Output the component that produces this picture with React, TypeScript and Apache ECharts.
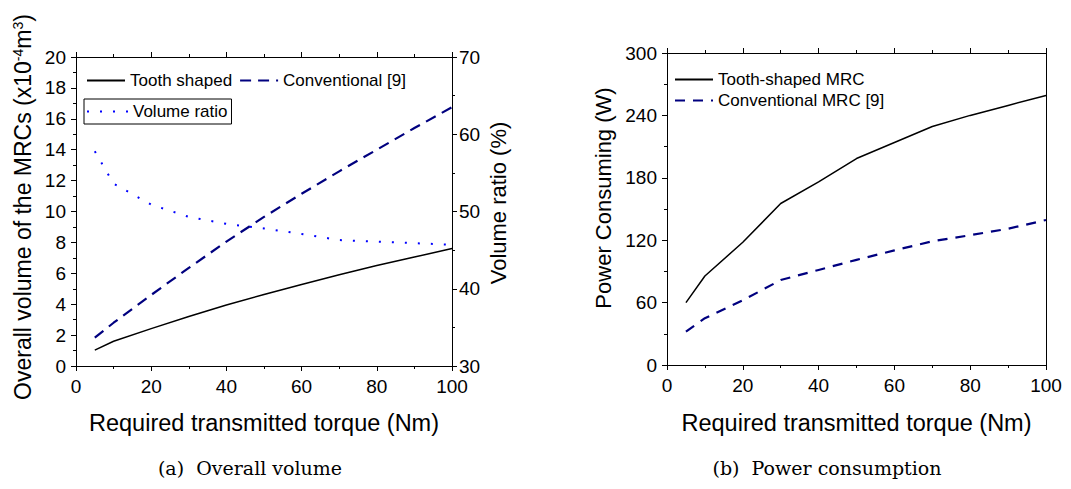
import React, { useEffect, useRef } from "react";
import * as echarts from "echarts";

const torque = [5, 10, 20, 30, 40, 50, 60, 70, 80, 90, 100];
const volTooth = [1.03, 1.6, 2.42, 3.2, 3.95, 4.63, 5.27, 5.9, 6.5, 7.05, 7.6];
const volConv = [1.83, 2.8, 4.6, 6.35, 8.05, 9.65, 11.15, 12.6, 14.0, 15.4, 16.75];
const volRatio = [57.8, 53.6, 50.9, 49.3, 48.4, 47.8, 47.1, 46.3, 46.1, 45.9, 45.7];
const powTooth = [60, 85.6, 118, 155.3, 176, 198.5, 214, 229.3, 240, 249.6, 259.2];
const powConv = [32.1, 45, 62.2, 81.7, 91.4, 101.1, 110.2, 119, 124.8, 131, 139.4];

const xTitle = "Required transmitted torque (Nm)";
const captionA = "(a)  Overall volume";
const captionB = "(b)  Power consumption";

const SANS = "'Liberation Sans', Arial, Helvetica, sans-serif";
const SERIF = "'DejaVu Serif', 'Liberation Serif', serif";
const NAVY = "#00007f";

const pairs = (ys: number[]) => torque.map((t, i) => [t, ys[i]]);

function axisBase(extra: any) {
  return {
    type: "value",
    axisLine: { show: true, onZero: false, lineStyle: { color: "#000", width: 1 } },
    axisTick: { show: true, length: 5, lineStyle: { color: "#000", width: 1 } },
    minorTick: { show: true, splitNumber: 2, length: 3, lineStyle: { color: "#000", width: 1 } },
    splitLine: { show: false },
    minorSplitLine: { show: false },
    axisLabel: { show: true, color: "#000", fontSize: 19, fontFamily: SANS },
    ...extra,
  };
}

const legendCommon = {
  itemHeight: 14,
  textStyle: { fontSize: 17, color: "#000", fontFamily: SANS },
  itemStyle: { opacity: 0 },
};

export default function App() {
  const ref = useRef<HTMLDivElement>(null);
  useEffect(() => {
    if (!ref.current) return;
    const chart = echarts.init(ref.current, undefined, { renderer: "svg" });
    const xCommon = { min: 0, max: 100, interval: 20 };
    const lbl = (margin: number) => ({ color: "#000", fontSize: 19, fontFamily: SANS, margin });
    const option: any = {
      animation: false,
      backgroundColor: "#fff",
      textStyle: { fontFamily: SANS, color: "#000" },
      grid: [
        { left: 76, right: 619, top: 57, bottom: 123, containLabel: false },
        { left: 667, right: 25, top: 53, bottom: 124, containLabel: false },
      ],
      xAxis: [
        axisBase({ gridIndex: 0, position: "bottom", ...xCommon, axisLabel: lbl(11) }),
        axisBase({ gridIndex: 0, position: "top", ...xCommon, axisLabel: { show: false } }),
        axisBase({ gridIndex: 1, position: "bottom", ...xCommon, axisLabel: lbl(11) }),
        axisBase({ gridIndex: 1, position: "top", ...xCommon, axisLabel: { show: false } }),
      ],
      yAxis: [
        axisBase({ gridIndex: 0, position: "left", min: 0, max: 20, interval: 2, axisLabel: lbl(10) }),
        axisBase({ gridIndex: 0, position: "right", min: 30, max: 70, interval: 10, axisLabel: lbl(7) }),
        axisBase({ gridIndex: 1, position: "left", min: 0, max: 300, interval: 60, axisLabel: lbl(10) }),
        axisBase({ gridIndex: 1, position: "right", min: 0, max: 300, interval: 60, axisTick: { show: false }, minorTick: { show: false }, axisLabel: { show: false } }),
      ],
      legend: [
        {
          ...legendCommon,
          data: ["Tooth shaped", "Conventional [9]"],
          orient: "horizontal",
          left: 86,
          top: 72,
          padding: 0,
          itemGap: 7,
          itemWidth: 38,
        },
        {
          ...legendCommon,
          data: ["Volume ratio"],
          orient: "horizontal",
          left: 84,
          top: 99,
          padding: [4, 4, 4, 2],
          borderColor: "#000",
          borderWidth: 1,
          itemWidth: 41,
        },
        {
          ...legendCommon,
          data: ["Tooth-shaped MRC", "Conventional MRC [9]"],
          orient: "vertical",
          left: 674,
          top: 71,
          padding: 0,
          itemGap: 4,
          itemWidth: 38,
        },
      ],
      series: [
        {
          name: "Tooth shaped",
          type: "line",
          xAxisIndex: 0,
          yAxisIndex: 0,
          data: pairs(volTooth),
          symbol: "none",
          lineStyle: { color: "#000", width: 1.5 },
          itemStyle: { color: "#000" },
        },
        {
          name: "Conventional [9]",
          type: "line",
          xAxisIndex: 0,
          yAxisIndex: 0,
          data: pairs(volConv),
          symbol: "none",
          lineStyle: { color: NAVY, width: 2.2, type: [11, 7] },
          itemStyle: { color: NAVY },
        },
        {
          name: "Volume ratio",
          type: "line",
          xAxisIndex: 0,
          yAxisIndex: 1,
          data: pairs(volRatio),
          symbol: "none",
          lineStyle: { color: "#0000ff", width: 2, type: [2, 11] },
          itemStyle: { color: "#0000ff" },
        },
        {
          name: "Tooth-shaped MRC",
          type: "line",
          xAxisIndex: 2,
          yAxisIndex: 2,
          data: pairs(powTooth),
          symbol: "none",
          lineStyle: { color: "#000", width: 1.5 },
          itemStyle: { color: "#000" },
        },
        {
          name: "Conventional MRC [9]",
          type: "line",
          xAxisIndex: 2,
          yAxisIndex: 2,
          data: pairs(powConv),
          symbol: "none",
          lineStyle: { color: NAVY, width: 2.2, type: [10, 8] },
          itemStyle: { color: NAVY },
        },
      ],
      graphic: [
        {
          type: "text",
          x: 264,
          y: 423,
          style: { text: xTitle, fill: "#000", font: `23.5px ${SANS}`, textAlign: "center", textVerticalAlign: "middle", align: "center", verticalAlign: "middle" },
        },
        {
          type: "text",
          x: 856.5,
          y: 423,
          style: { text: xTitle, fill: "#000", font: `23.5px ${SANS}`, textAlign: "center", textVerticalAlign: "middle", align: "center", verticalAlign: "middle" },
        },
        {
          type: "text",
          x: 22.5,
          y: 207,
          rotation: Math.PI / 2,
          style: {
            text: "{a|Overall volume of the MRCs (x10}{s|-4}{a|m}{s|3}{a|)}",
            fill: "#000",
            textAlign: "center",
            textVerticalAlign: "middle",
            align: "center",
            verticalAlign: "middle",
            rich: {
              a: { fontSize: 23, fontFamily: SANS, fill: "#000", color: "#000", verticalAlign: "bottom" },
              s: { fontSize: 14, fontFamily: SANS, fill: "#000", color: "#000", verticalAlign: "top" },
            },
          },
        },
        {
          type: "text",
          x: 498,
          y: 203,
          rotation: Math.PI / 2,
          style: { text: "Volume ratio (%)", fill: "#000", font: `22px ${SANS}`, textAlign: "center", textVerticalAlign: "middle", align: "center", verticalAlign: "middle" },
        },
        {
          type: "text",
          x: 603,
          y: 198,
          rotation: Math.PI / 2,
          style: { text: "Power Consuming (W)", fill: "#000", font: `22px ${SANS}`, textAlign: "center", textVerticalAlign: "middle", align: "center", verticalAlign: "middle" },
        },
        {
          type: "text",
          x: 250,
          y: 468,
          style: { text: captionA, fill: "#000", font: `19px ${SERIF}`, textAlign: "center", textVerticalAlign: "middle", align: "center", verticalAlign: "middle" },
        },
        {
          type: "text",
          x: 827,
          y: 468,
          style: { text: captionB, fill: "#000", font: `19px ${SERIF}`, textAlign: "center", textVerticalAlign: "middle", align: "center", verticalAlign: "middle" },
        },
      ],
    };
    chart.setOption(option);
    return () => chart.dispose();
  }, []);
  return (
    <div
      ref={ref}
      style={{ position: "absolute", left: 0, top: 0, width: 1071, height: 489, background: "#fff" }}
    />
  );
}
